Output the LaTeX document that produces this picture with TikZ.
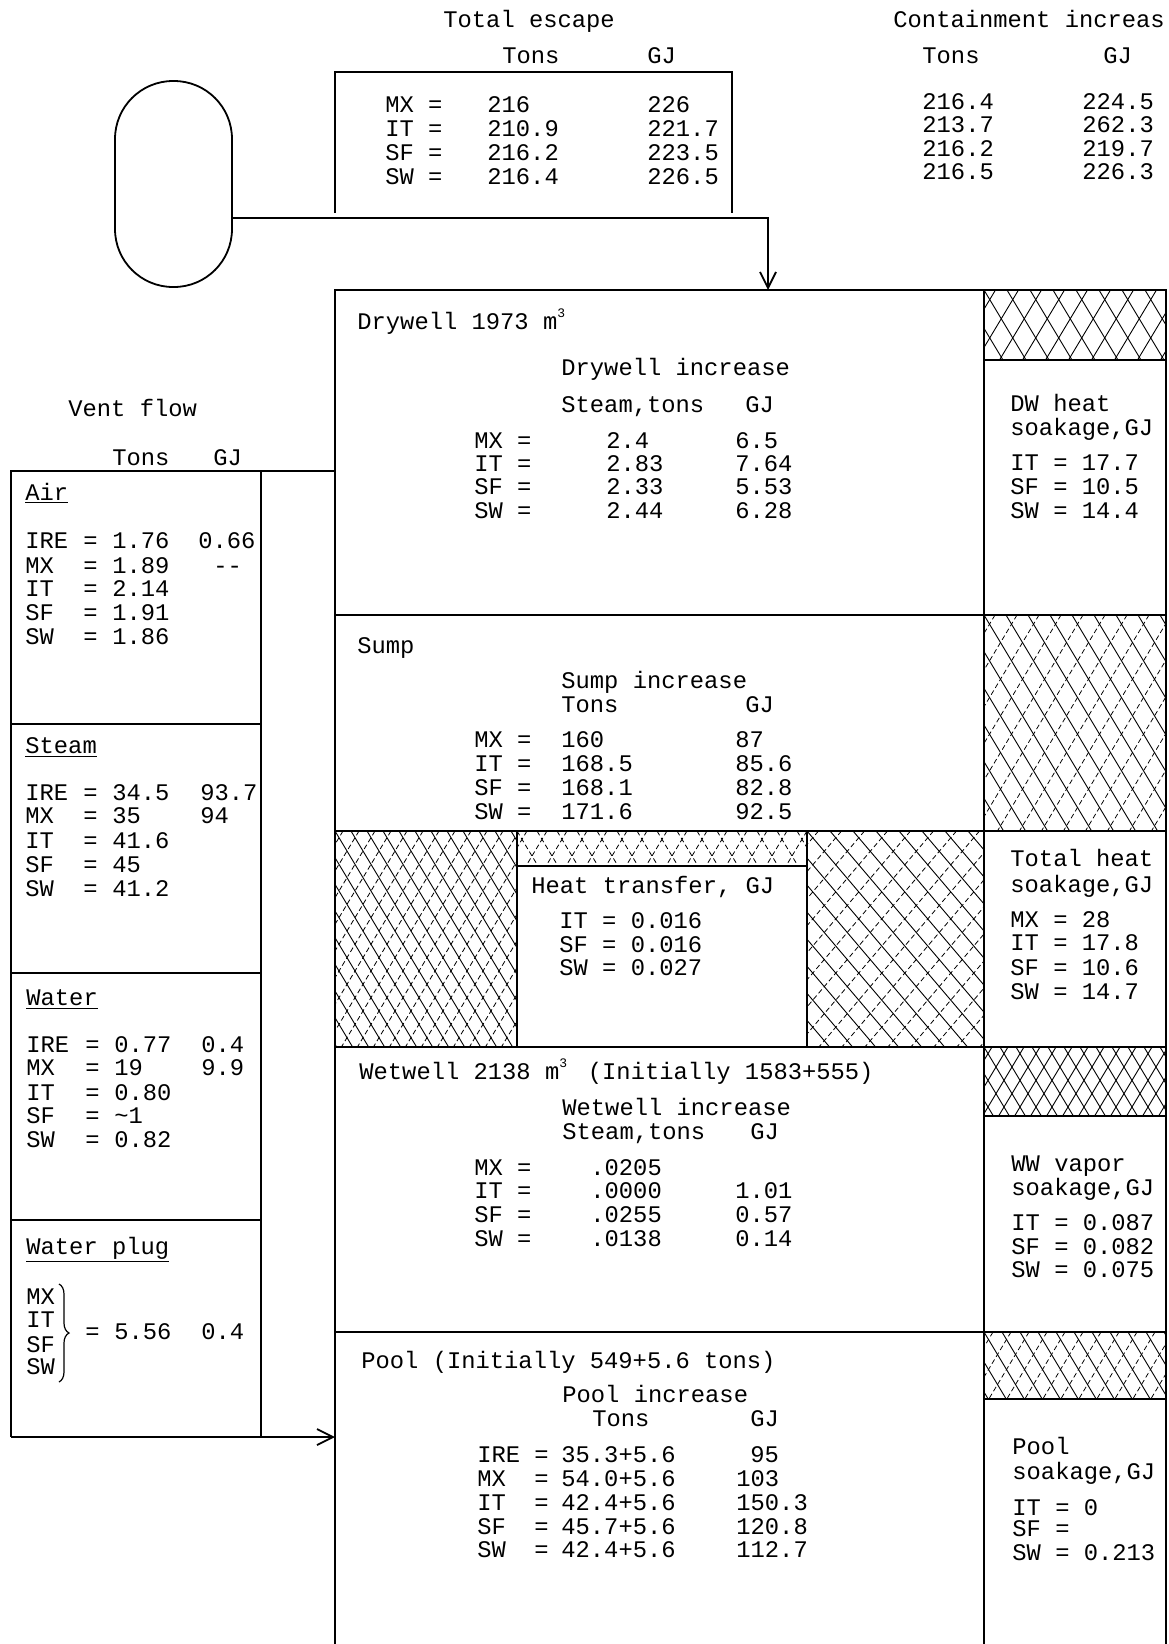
\documentclass[tikz,border=0pt]{standalone}
\usepackage{fontspec}
\newfontfamily\tw{Liberation Mono}
\usetikzlibrary{arrows.meta,decorations.pathreplacing}
\newcommand\supthree{\makebox[0.6em][l]{\raisebox{0.9ex}{\fontsize{6.5}{6.5}\selectfont 3}}}
\newcommand\T[4]{\node[tt] (#1) at (#2,#3) {#4};}
\newcommand\hatchbox[8]{%
\begin{scope}
\clip (#1,#2) rectangle (#3,#4);
\pgfmathsetmacro\hh{#4-#2}
\pgfmathtruncatemacro\nmax{(#3-#1+#8*\hh)/#5+2}
\pgfmathtruncatemacro\nmin{-(#8*\hh)/#5-2}
\foreach \k in {\nmin,...,\nmax}{
 \draw[#6] ({#1+\k*#5},#2) -- ++({#8*\hh},\hh);
 \draw[#7] ({#1+\k*#5+0.5*#5},#2) -- ++({-#8*\hh},\hh);
}
\end{scope}}
\begin{document}
\begin{tikzpicture}[x=0.5pt,y=-0.5pt,
  tt/.style={anchor=base west,inner sep=0pt,font=\tw\fontsize{11.9}{12}\selectfont},
  ln/.style={line width=0.9pt},
  hs/.style={line width=0.45pt},
  hd/.style={line width=0.4pt,dash pattern=on 2.5pt off 1.5pt},
  barb/.style={-{Straight Barb[length=8pt,width=8pt]}}]
\useasboundingbox (0,0) rectangle (1168,1644);
\fill[white] (0,0) rectangle (1168,1644);

% ---------- hatches ----------
\hatchbox{984}{290}{1166}{360}{23}{hs}{hs}{0.6}
\hatchbox{984}{615}{1166}{831}{22}{hs}{hd}{0.6}
\hatchbox{335}{831}{517}{1047}{16}{hs}{hd}{0.6}
\hatchbox{517}{831}{807}{866}{20}{hd}{hd}{0.6}
\hatchbox{807}{831}{984}{1047}{23}{hs}{hd}{0.85}
\hatchbox{984}{1047}{1166}{1116}{16}{hs}{hs}{0.6}
\hatchbox{984}{1332}{1166}{1399}{18}{hs}{hd}{0.6}

% ---------- oval and escape box ----------
\node[draw,ln,rounded corners=29pt,minimum width=58.5pt,minimum height=103pt,inner sep=0pt] (oval) at (173.5,184) {};
\draw[ln] (335,213) |- (732,72) -- (732,213);
\coordinate (ovalR) at (232,218);
\coordinate (dwIn) at (768,290);
\draw[ln,barb] (ovalR) -| (dwIn);

% ---------- container ----------
\draw[ln] (335,1644) -- (335,290) -- (1166,290) -- (1166,1644);
\draw[ln] (984,290) -- (984,1644);
\draw[ln] (984,360) -- (1166,360);
\draw[ln] (335,615) -- (1166,615);
\draw[ln] (335,831) -- (1166,831);
\draw[ln] (517,831) -- (517,1047);
\draw[ln] (807,831) -- (807,1047);
\draw[ln] (517,866) -- (807,866);
\draw[ln] (335,1047) -- (1166,1047);
\draw[ln] (984,1116) -- (1166,1116);
\draw[ln] (335,1332) -- (1166,1332);
\draw[ln] (984,1399) -- (1166,1399);

% ---------- vent column ----------
\draw[ln] (335,471) -- (11,471) -- (11,1437);
\draw[ln] (261,471) -- (261,1437);
\draw[ln] (11,724) -- (261,724);
\draw[ln] (11,973) -- (261,973);
\draw[ln] (11,1220) -- (261,1220);
\coordinate (ventOut) at (11,1437);
\coordinate (poolIn) at (335,1437);
\draw[ln,barb] (ventOut) -- (poolIn);

% ---------- top texts ----------
\T{te}{443}{27}{Total escape}
\T{teT}{502}{63}{Tons}
\T{teG}{647}{63}{GJ}
\T{e1}{385}{112}{MX =}\T{e1a}{487}{112}{216}\T{e1b}{647}{112}{226}
\T{e2}{385}{136}{IT =}\T{e2a}{487}{136}{210.9}\T{e2b}{647}{136}{221.7}
\T{e3}{385}{160}{SF =}\T{e3a}{487}{160}{216.2}\T{e3b}{647}{160}{223.5}
\T{e4}{385}{184}{SW =}\T{e4a}{487}{184}{216.4}\T{e4b}{647}{184}{226.5}

\T{ci}{893}{27}{Containment increas}
\T{ciT}{922}{63}{Tons}
\T{ciG}{1103}{63}{GJ}
\T{c1a}{922}{109}{216.4}\T{c1b}{1082}{109}{224.5}
\T{c2a}{922}{132}{213.7}\T{c2b}{1082}{132}{262.3}
\T{c3a}{922}{156}{216.2}\T{c3b}{1082}{156}{219.7}
\T{c4a}{922}{179}{216.5}\T{c4b}{1082}{179}{226.3}

% ---------- drywell ----------
\T{dw}{357}{329}{Drywell 1973 m\supthree}
\T{dwi}{561}{375}{Drywell increase}
\T{dwT}{561}{412}{Steam,tons}\T{dwG}{745}{412}{GJ}
\T{d1}{474}{448}{MX =}\T{d1a}{606}{448}{2.4}\T{d1b}{735}{448}{6.5}
\T{d2}{474}{471}{IT =}\T{d2a}{606}{471}{2.83}\T{d2b}{735}{471}{7.64}
\T{d3}{474}{494}{SF =}\T{d3a}{606}{494}{2.33}\T{d3b}{735}{494}{5.53}
\T{d4}{474}{518}{SW =}\T{d4a}{606}{518}{2.44}\T{d4b}{735}{518}{6.28}
\T{dh1}{1010}{411}{DW heat}
\T{dh2}{1010}{435}{soakage,GJ}
\T{dh3}{1010}{470}{IT = 17.7}
\T{dh4}{1010}{494}{SF = 10.5}
\T{dh5}{1010}{518}{SW = 14.4}

% ---------- sump ----------
\T{sp}{357}{653}{Sump}
\T{spi}{561}{688}{Sump increase}
\T{spT}{561}{712}{Tons}\T{spG}{745}{712}{GJ}
\T{s1}{474}{747}{MX =}\T{s1a}{561}{747}{160}\T{s1b}{735}{747}{87}
\T{s2}{474}{771}{IT =}\T{s2a}{561}{771}{168.5}\T{s2b}{735}{771}{85.6}
\T{s3}{474}{795}{SF =}\T{s3a}{561}{795}{168.1}\T{s3b}{735}{795}{82.8}
\T{s4}{474}{819}{SW =}\T{s4a}{561}{819}{171.6}\T{s4b}{735}{819}{92.5}

% ---------- heat transfer ----------
\T{ht}{531}{893}{Heat transfer, GJ}
\T{h1}{559}{928}{IT = 0.016}
\T{h2}{559}{952}{SF = 0.016}
\T{h3}{559}{975}{SW = 0.027}
\T{th1}{1010}{866}{Total heat}
\T{th2}{1010}{892}{soakage,GJ}
\T{th3}{1010}{927}{MX = 28}
\T{th4}{1010}{950}{IT = 17.8}
\T{th5}{1010}{975}{SF = 10.6}
\T{th6}{1010}{999}{SW = 14.7}

% ---------- wetwell ----------
\T{ww}{359}{1079}{Wetwell 2138 m\supthree{} (Initially 1583+555)}
\T{wwi}{562}{1115}{Wetwell increase}
\T{wwT}{562}{1139}{Steam,tons}\T{wwG}{750}{1139}{GJ}
\T{w1}{474}{1175}{MX =}\T{w1a}{590}{1175}{.0205}
\T{w2}{474}{1198}{IT =}\T{w2a}{590}{1198}{.0000}\T{w2b}{735}{1198}{1.01}
\T{w3}{474}{1222}{SF =}\T{w3a}{590}{1222}{.0255}\T{w3b}{735}{1222}{0.57}
\T{w4}{474}{1246}{SW =}\T{w4a}{590}{1246}{.0138}\T{w4b}{735}{1246}{0.14}
\T{wv1}{1011}{1171}{WW vapor}
\T{wv2}{1011}{1195}{soakage,GJ}
\T{wv3}{1011}{1230}{IT = 0.087}
\T{wv4}{1011}{1254}{SF = 0.082}
\T{wv5}{1011}{1277}{SW = 0.075}

% ---------- pool ----------
\T{pl}{361}{1368}{Pool (Initially 549+5.6 tons)}
\T{pli}{562}{1402}{Pool increase}
\T{plT}{592}{1426}{Tons}\T{plG}{750}{1426}{GJ}
\T{p1}{477}{1462}{IRE}\T{p1e}{534}{1462}{=}\T{p1a}{561}{1462}{35.3+5.6}\T{p1b}{750}{1462}{95}
\T{p2}{477}{1486}{MX}\T{p2e}{534}{1486}{=}\T{p2a}{561}{1486}{54.0+5.6}\T{p2b}{736}{1486}{103}
\T{p3}{477}{1510}{IT}\T{p3e}{534}{1510}{=}\T{p3a}{561}{1510}{42.4+5.6}\T{p3b}{736}{1510}{150.3}
\T{p4}{477}{1534}{SF}\T{p4e}{534}{1534}{=}\T{p4a}{561}{1534}{45.7+5.6}\T{p4b}{736}{1534}{120.8}
\T{p5}{477}{1557}{SW}\T{p5e}{534}{1557}{=}\T{p5a}{561}{1557}{42.4+5.6}\T{p5b}{736}{1557}{112.7}
\T{ps1}{1012}{1454}{Pool}
\T{ps2}{1012}{1479}{soakage,GJ}
\T{ps3}{1012}{1515}{IT = 0}
\T{ps4}{1012}{1536}{SF =}
\T{ps5}{1012}{1560}{SW = 0.213}

% ---------- vent flow ----------
\T{vf}{68}{416}{Vent flow}
\T{vfT}{112}{465}{Tons}\T{vfG}{213}{465}{GJ}
\T{air}{25}{500}{\underline{Air}}
\T{a1}{25}{548}{IRE}\T{a1e}{83}{548}{=}\T{a1a}{112}{548}{1.76}\T{a1b}{198}{548}{0.66}
\T{a2}{25}{573}{MX}\T{a2e}{83}{573}{=}\T{a2a}{112}{573}{1.89}\T{a2b}{213}{573}{-{}-}
\T{a3}{25}{596}{IT}\T{a3e}{83}{596}{=}\T{a3a}{112}{596}{2.14}
\T{a4}{25}{620}{SF}\T{a4e}{83}{620}{=}\T{a4a}{112}{620}{1.91}
\T{a5}{25}{644}{SW}\T{a5e}{83}{644}{=}\T{a5a}{112}{644}{1.86}

\T{stm}{25}{753}{\underline{Steam}}
\T{b1}{25}{800}{IRE}\T{b1e}{83}{800}{=}\T{b1a}{112}{800}{34.5}\T{b1b}{200}{800}{93.7}
\T{b2}{25}{823}{MX}\T{b2e}{83}{823}{=}\T{b2a}{112}{823}{35}\T{b2b}{200}{823}{94}
\T{b3}{25}{848}{IT}\T{b3e}{83}{848}{=}\T{b3a}{112}{848}{41.6}
\T{b4}{25}{872}{SF}\T{b4e}{83}{872}{=}\T{b4a}{112}{872}{45}
\T{b5}{25}{896}{SW}\T{b5e}{83}{896}{=}\T{b5a}{112}{896}{41.2}

\T{wat}{26}{1005}{\underline{Water}}
\T{c1}{26}{1052}{IRE}\T{c1e}{85}{1052}{=}\T{c1v}{114}{1052}{0.77}\T{c1g}{201}{1052}{0.4}
\T{c2}{26}{1075}{MX}\T{c2e}{85}{1075}{=}\T{c2v}{114}{1075}{19}\T{c2g}{201}{1075}{9.9}
\T{c3}{26}{1100}{IT}\T{c3e}{85}{1100}{=}\T{c3v}{114}{1100}{0.80}
\T{c4}{26}{1123}{SF}\T{c4e}{85}{1123}{=}\T{c4v}{114}{1123}{\textasciitilde1}
\T{c5}{26}{1147}{SW}\T{c5e}{85}{1147}{=}\T{c5v}{114}{1147}{0.82}

\T{wp}{26}{1254}{\underline{Water plug}}
\T{q1}{26}{1304}{MX}
\T{q2}{26}{1327}{IT}
\T{q3}{26}{1352}{SF}
\T{q4}{26}{1374}{SW}
\coordinate (brT) at (59,1284);
\coordinate (brB) at (59,1382);
\draw[line width=0.6pt,decorate,decoration={brace,amplitude=5pt}] (brT) -- (brB);
\T{qe}{85}{1339}{=}\T{qv}{114}{1339}{5.56}\T{qg}{201}{1339}{0.4}
\end{tikzpicture}
\end{document}
